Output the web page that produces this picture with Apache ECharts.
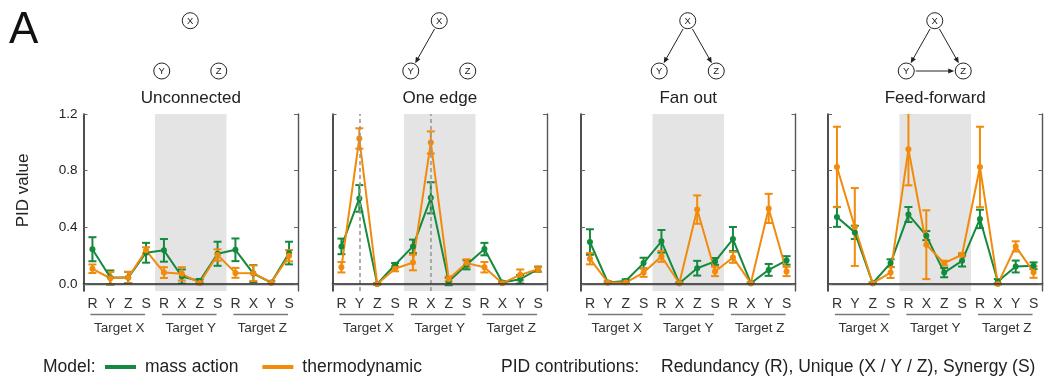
<!DOCTYPE html>
<html>
<head>
<meta charset="utf-8">
<script src="https://cdn.jsdelivr.net/npm/echarts@6/dist/echarts.min.js"></script>
<style>
  html, body { margin: 0; padding: 0; background: #fff; }
  #chart { width: 1045px; height: 383px; }
</style>
</head>
<body>
<div id="chart"></div>
<script>
// PID terms along each panel's x axis: three targets, four terms each
const categories = ['R', 'Y', 'Z', 'S', 'R', 'X', 'Z', 'S', 'R', 'X', 'Y', 'S'];
const groupLabels = ['Target X', 'Target Y', 'Target Z'];
const groupSpans = [[0, 3], [4, 7], [8, 11]];
const shadedSpan = [4, 7];
const panelTitles = ['Unconnected', 'One edge', 'Fan out', 'Feed-forward'];
const yTicks = [0, 0.4, 0.8, 1.2];

// Network motifs drawn above each panel
const nodeNames = ['X', 'Y', 'Z'];
const edgesUnconnected = [];
const edgesOneEdge = [['X', 'Y']];
const edgesFanOut = [['X', 'Y'], ['X', 'Z']];
const edgesFeedForward = [['X', 'Y'], ['X', 'Z'], ['Y', 'Z']];

// Unique-information terms carried by the single edge (dashed guides)
const oneEdgeGuides = [1, 5];

// Unconnected
const massUnconnected      = [0.245, 0.045, 0.045, 0.220, 0.237, 0.052, 0.020, 0.213, 0.241, 0.073, 0.010, 0.218];
const massUnconnectedErr   = [0.085, 0.050, 0.040, 0.070, 0.080, 0.050, 0.015, 0.085, 0.080, 0.060, 0.010, 0.080];
const thermoUnconnected    = [0.107, 0.040, 0.045, 0.237, 0.080, 0.071, 0.007, 0.204, 0.078, 0.076, 0.009, 0.199];
const thermoUnconnectedErr = [0.030, 0.045, 0.040, 0.022, 0.038, 0.047, 0.010, 0.040, 0.035, 0.055, 0.010, 0.040];

// One edge
const massOneEdge      = [0.265, 0.604, 0.000, 0.135, 0.265, 0.608, 0.017, 0.135, 0.246, 0.010, 0.033, 0.104];
const massOneEdgeErr   = [0.055, 0.094, 0.005, 0.012, 0.048, 0.110, 0.026, 0.032, 0.044, 0.008, 0.030, 0.018];
const thermoOneEdge    = [0.118, 1.027, 0.000, 0.107, 0.151, 0.999, 0.035, 0.147, 0.118, 0.005, 0.064, 0.104];
const thermoOneEdgeErr = [0.037, 0.072, 0.005, 0.018, 0.055, 0.078, 0.018, 0.027, 0.037, 0.006, 0.038, 0.018];

// Fan out
const massFanOut      = [0.296, 0.010, 0.021, 0.147, 0.301, 0.005, 0.111, 0.159, 0.317, 0.005, 0.099, 0.166];
const massFanOutErr   = [0.090, 0.008, 0.012, 0.038, 0.080, 0.005, 0.052, 0.024, 0.085, 0.005, 0.042, 0.030];
const thermoFanOut    = [0.178, 0.010, 0.010, 0.080, 0.194, 0.005, 0.525, 0.088, 0.187, 0.005, 0.533, 0.088];
const thermoFanOutErr = [0.040, 0.008, 0.008, 0.030, 0.038, 0.005, 0.100, 0.033, 0.038, 0.005, 0.103, 0.033];

// Feed-forward
const massFeedForward      = [0.473, 0.364, 0.005, 0.147, 0.490, 0.341, 0.080, 0.163, 0.459, 0.017, 0.123, 0.128];
const massFeedForwardErr   = [0.070, 0.047, 0.005, 0.027, 0.053, 0.032, 0.033, 0.040, 0.065, 0.017, 0.042, 0.024];
const thermoFeedForward    = [0.826, 0.402, 0.005, 0.080, 0.951, 0.277, 0.147, 0.206, 0.826, 0.000, 0.265, 0.083];
const thermoFeedForwardErr = [0.284, 0.275, 0.005, 0.038, 0.255, 0.243, 0.017, 0.012, 0.284, 0.005, 0.036, 0.040];

const panels = [
  { mass: massUnconnected, massErr: massUnconnectedErr, thermo: thermoUnconnected, thermoErr: thermoUnconnectedErr, edges: edgesUnconnected, guides: [] },
  { mass: massOneEdge, massErr: massOneEdgeErr, thermo: thermoOneEdge, thermoErr: thermoOneEdgeErr, edges: edgesOneEdge, guides: oneEdgeGuides },
  { mass: massFanOut, massErr: massFanOutErr, thermo: thermoFanOut, thermoErr: thermoFanOutErr, edges: edgesFanOut, guides: [] },
  { mass: massFeedForward, massErr: massFeedForwardErr, thermo: thermoFeedForward, thermoErr: thermoFeedForwardErr, edges: edgesFeedForward, guides: [] }
];

const GREEN = '#138a3d';
const ORANGE = '#f28a0c';
const FONT = "'Liberation Sans', Arial, Helvetica, sans-serif";
const TEXT = '#222';

// Layout
const gridLefts = [83.5, 332.5, 581, 828];
const gridWidth = 214.5;
const gridTop = 114;
const gridBottom = 92;
const Y_MIN = -0.05, Y_MAX = 1.2;

const chart = echarts.init(document.getElementById('chart'), null, { renderer: 'canvas' });

const grids = [], xAxes = [], yAxes = [], series = [], titles = [], graphics = [];

function errorBarRenderer(color) {
  return function (params, api) {
    const i = api.value(0), v = api.value(1), e = api.value(2);
    const hi = api.coord([i, v + e]);
    const lo = api.coord([i, v - e]);
    const cap = 4;
    const style = { stroke: color, lineWidth: 2 };
    return {
      type: 'group',
      children: [
        { type: 'line', shape: { x1: hi[0], y1: hi[1], x2: lo[0], y2: lo[1] }, style },
        { type: 'line', shape: { x1: hi[0] - cap, y1: hi[1], x2: hi[0] + cap, y2: hi[1] }, style },
        { type: 'line', shape: { x1: lo[0] - cap, y1: lo[1], x2: lo[0] + cap, y2: lo[1] }, style }
      ]
    };
  };
}

panels.forEach((p, g) => {
  grids.push({ left: gridLefts[g], width: gridWidth, top: gridTop, bottom: gridBottom, containLabel: false });

  const bx = 2 * g, tx = 2 * g + 1;
  xAxes.push({
    type: 'category', gridIndex: g, position: 'bottom', data: categories, boundaryGap: true, z: 10,
    axisLine: { lineStyle: { color: '#222', width: 1.6 } },
    axisTick: { inside: true, alignWithLabel: true, length: 4, lineStyle: { color: '#666', width: 1 } },
    axisLabel: { margin: 6, fontSize: 14, color: '#333', fontFamily: FONT, interval: 0 },
    splitLine: { show: false }
  });
  xAxes.push({
    type: 'category', gridIndex: g, position: 'top', data: categories, boundaryGap: true, z: 10,
    axisLine: { lineStyle: { color: '#555', width: 1.4 } },
    axisTick: { inside: true, alignWithLabel: true, length: 4, lineStyle: { color: '#666', width: 1 } },
    axisLabel: { show: false },
    splitLine: { show: false }
  });
  yAxes.push({
    type: 'value', gridIndex: g, position: 'left', min: Y_MIN, max: Y_MAX, z: 10,
    axisLine: { show: true, lineStyle: { color: '#222', width: 1.6 } },
    axisTick: { show: true, inside: true, length: 4, customValues: yTicks, lineStyle: { color: '#666', width: 1 } },
    axisLabel: {
      show: g === 0, customValues: yTicks, margin: 6, fontSize: 13.5, color: TEXT, fontFamily: FONT,
      formatter: v => Number(v).toFixed(1)
    },
    splitLine: { show: false }
  });
  yAxes.push({
    type: 'value', gridIndex: g, position: 'right', min: Y_MIN, max: Y_MAX, z: 10,
    axisLine: { show: true, lineStyle: { color: '#555', width: 1.4 } },
    axisTick: { show: true, inside: true, length: 4, customValues: yTicks, lineStyle: { color: '#666', width: 1 } },
    axisLabel: { show: false },
    splitLine: { show: false }
  });

  // Shaded middle target block plus dashed guides
  series.push({
    type: 'custom', xAxisIndex: bx, yAxisIndex: 2 * g, silent: true, z: 1,
    data: [[shadedSpan[0], shadedSpan[1]]],
    encode: { x: [0, 1] },
    renderItem: (params, api) => {
      const cs = params.coordSys;
      const a = api.coord([api.value(0), 0])[0];
      const b = api.coord([api.value(1), 0])[0];
      const w = api.size([1, 0])[0];
      return { type: 'rect', shape: { x: a - w / 2, y: cs.y, width: b - a + w, height: cs.height }, style: { fill: '#e4e4e4' } };
    },
    markLine: p.guides.length ? {
      silent: true, symbol: 'none', animation: false,
      label: { show: false },
      lineStyle: { color: '#9a9a9a', type: [4, 3], width: 1.6 },
      data: p.guides.map(i => ({ xAxis: i }))
    } : undefined
  });

  // Target group underlines and names below the axis
  series.push({
    type: 'custom', xAxisIndex: bx, yAxisIndex: 2 * g, silent: true, clip: false, z: 1,
    data: groupSpans.map(s => [s[0], s[1]]),
    encode: { x: [0, 1] },
    renderItem: (params, api) => {
      const cs = params.coordSys;
      const a = api.coord([api.value(0), 0])[0];
      const b = api.coord([api.value(1), 0])[0];
      const base = cs.y + cs.height;
      return {
        type: 'group',
        children: [
          { type: 'line', shape: { x1: a - 2, y1: base + 23.5, x2: b - 1, y2: base + 23.5 }, style: { stroke: '#777', lineWidth: 1.6 } },
          { type: 'text', style: { text: groupLabels[params.dataIndex], x: (a + b) / 2, y: base + 37.5, align: 'center', verticalAlign: 'middle', font: '13.5px ' + FONT, fill: '#333' } }
        ]
      };
    }
  });

  const addModel = (name, values, errs, color) => {
    series.push({
      name, type: 'custom', xAxisIndex: bx, yAxisIndex: 2 * g, clip: true, z: 2,
      itemStyle: { color },
      data: values.map((v, i) => [i, v, errs[i]]),
      encode: { x: 0, y: 1 },
      renderItem: errorBarRenderer(color)
    });
    series.push({
      name, type: 'line', xAxisIndex: bx, yAxisIndex: 2 * g, z: 2,
      data: values,
      symbol: 'circle', symbolSize: 6,
      lineStyle: { color, width: 2 },
      itemStyle: { color },
      emphasis: { disabled: true }
    });
  };
  addModel('mass action', p.mass, p.massErr, GREEN);
  addModel('thermodynamic', p.thermo, p.thermoErr, ORANGE);

  // Panel title
  const cx = gridLefts[g] + gridWidth / 2;
  titles.push({
    text: panelTitles[g], left: cx, top: 90, textAlign: 'center', padding: 0,
    textStyle: { fontSize: 17, fontWeight: 'normal', color: TEXT, fontFamily: FONT }
  });

  // Motif diagram
  const nx = cx - 0.5;
  const pos = { X: [nx, 20.7], Y: [nx - 28.5, 71], Z: [nx + 28.5, 71] };
  const r = 8;
  nodeNames.forEach(n => {
    graphics.push({ type: 'circle', shape: { cx: pos[n][0], cy: pos[n][1], r }, style: { fill: '#fff', stroke: '#222', lineWidth: 1 } });
    graphics.push({ type: 'text', style: { text: n, x: pos[n][0], y: pos[n][1] + 0.5, align: 'center', verticalAlign: 'middle', textAlign: 'center', textVerticalAlign: 'middle', font: '9.5px ' + FONT, fill: '#222' } });
  });
  p.edges.forEach(([s, t]) => {
    const [x1, y1] = pos[s], [x2, y2] = pos[t];
    const dx = x2 - x1, dy = y2 - y1, L = Math.hypot(dx, dy);
    const ux = dx / L, uy = dy / L;
    const sx = x1 + ux * (r + 1.5), sy = y1 + uy * (r + 1.5);
    const ex = x2 - ux * (r + 1), ey = y2 - uy * (r + 1);
    const ah = 6, aw = 2.6;
    graphics.push({ type: 'line', shape: { x1: sx, y1: sy, x2: ex - ux * ah * 0.8, y2: ey - uy * ah * 0.8 }, style: { stroke: '#222', lineWidth: 1 } });
    graphics.push({
      type: 'polygon',
      shape: { points: [[ex, ey], [ex - ux * ah - uy * aw, ey - uy * ah + ux * aw], [ex - ux * ah + uy * aw, ey - uy * ah - ux * aw]] },
      style: { fill: '#222' }
    });
  });
});

// Panel letter, axis name and legend captions
const LEGEND_FONT = '17.5px ' + FONT;
graphics.push({ type: 'text', style: { text: 'A', x: 9, y: 31, align: 'left', verticalAlign: 'middle', textAlign: 'left', textVerticalAlign: 'middle', font: '44px ' + FONT, fill: '#111' } });
graphics.push({ type: 'text', rotation: Math.PI / 2, x: 23.5, y: 190.5, style: { text: 'PID value', x: 0, y: 0, align: 'center', verticalAlign: 'middle', textAlign: 'center', textVerticalAlign: 'middle', font: '17px ' + FONT, fill: TEXT } });
graphics.push({ type: 'text', style: { text: 'Model:', x: 43, y: 367, align: 'left', verticalAlign: 'middle', textAlign: 'left', textVerticalAlign: 'middle', font: LEGEND_FONT, fill: TEXT } });
graphics.push({ type: 'text', style: { text: 'PID contributions:', x: 501, y: 367, align: 'left', verticalAlign: 'middle', textAlign: 'left', textVerticalAlign: 'middle', font: LEGEND_FONT, fill: TEXT } });
graphics.push({ type: 'text', style: { text: 'Redundancy (R), Unique (X / Y / Z), Synergy (S)', x: 661, y: 367, align: 'left', verticalAlign: 'middle', textAlign: 'left', textVerticalAlign: 'middle', font: LEGEND_FONT, fill: TEXT } });

chart.setOption({
  animation: false,
  backgroundColor: '#fff',
  textStyle: { fontFamily: FONT },
  title: titles,
  legend: {
    left: 105, top: 357, padding: 0, itemGap: 24, itemWidth: 31, itemHeight: 4,
    icon: 'rect', selectedMode: false,
    textStyle: { fontSize: 17.5, color: TEXT, fontFamily: FONT, padding: [0, 0, 0, 4], lineHeight: 20 },
    data: [
      { name: 'mass action', itemStyle: { color: GREEN } },
      { name: 'thermodynamic', itemStyle: { color: ORANGE } }
    ]
  },
  grid: grids,
  xAxis: xAxes,
  yAxis: yAxes,
  series,
  graphic: { elements: graphics }
});
</script>
</body>
</html>
